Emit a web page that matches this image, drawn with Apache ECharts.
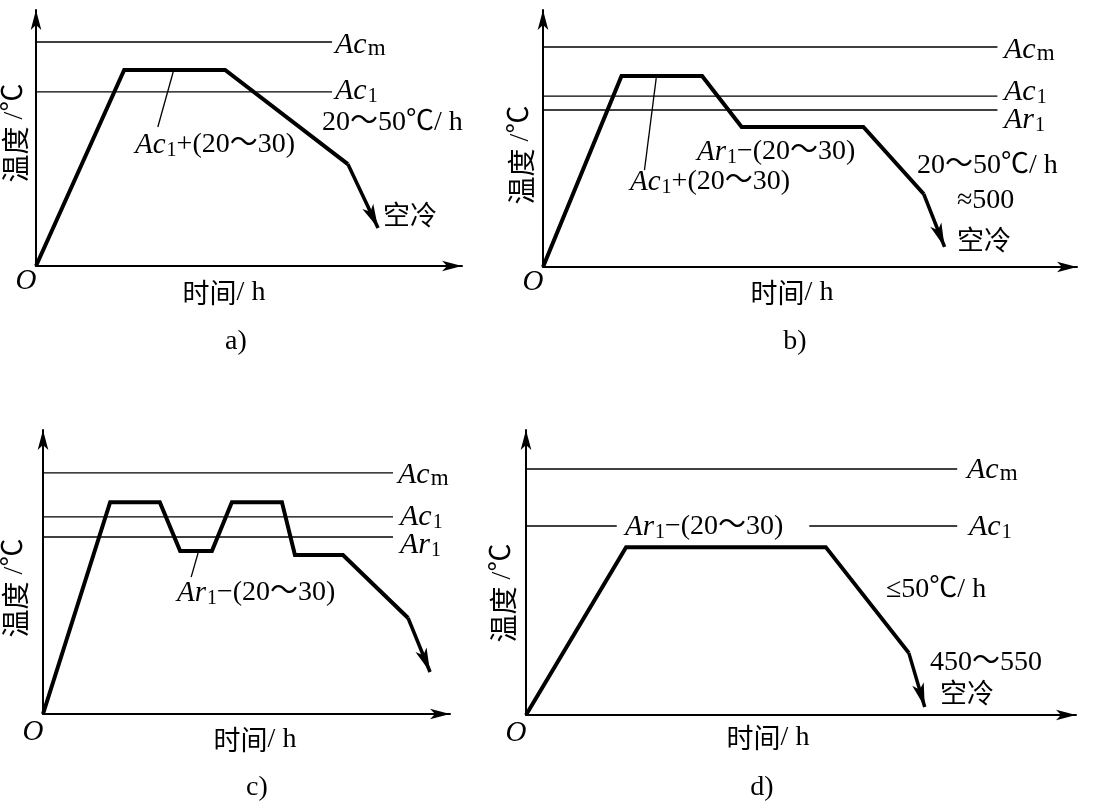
<!DOCTYPE html>
<html><head><meta charset="utf-8">
<script src="https://cdn.jsdelivr.net/npm/echarts@6/dist/echarts.min.js"></script>
<style>html,body{margin:0;padding:0;background:#fff}#c{width:1093px;height:803px}</style>
</head><body><div id="c"></div>
<script>
// ---- Panel a) ----
const aPath = [[0,0],[20.7,76.6],[44.4,76.6],[73.2,39.8],[80.3,14.8]];
const aLevelNames = ['Acm','Ac1'];
const aLevelValues = [87.5, 68.0];
const aLevelEnd = 69.5;
const aLeader = [[32.2,75.8],[28.6,54.3]];
// ---- Panel b) ----
const bPath = [[0,0],[14.7,74.3],[29.8,74.3],[37.2,54.5],[60.0,54.5],[71.3,28.4],[75.2,7.8]];
const bLevelNames = ['Acm','Ac1','Ar1'];
const bLevelValues = [85.6, 66.5, 61.1];
const bLevelEnd = 85.1;
const bLeader = [[21.2,73.5],[19.0,37.7]];
// ---- Panel c) ----
const cPath = [[0,0],[16.5,74.6],[28.7,74.6],[33.7,57.4],[41.5,57.4],[46.4,74.6],[58.7,74.6],[61.9,56.0],[73.7,56.0],[89.7,33.8],[95.1,14.8]];
const cLevelNames = ['Acm','Ac1','Ar1'];
const cLevelValues = [84.9, 69.4, 62.3];
const cLevelEnd = 86.0;
const cLeader = [[38.1,56.7],[36.4,48.2]];
// ---- Panel d) ----
const dPath = [[0,0],[18.2,58.9],[54.5,58.9],[69.6,21.8],[72.5,2.8]];
const dLevelNames = ['Acm','Ac1'];
const dLevelValues = [86.3, 66.3];
const dLevelEnd = 78.4;
const dAc1Gap = [16.5, 51.5];

const SERIF = '"Liberation Serif","Times New Roman","Noto Sans CJK SC",serif';
const CJK = '"Noto Sans CJK SC",sans-serif';

const grids = [
  {left:36, top:10, width:426, height:256},
  {left:543, top:10, width:534, height:257},
  {left:43, top:430, width:407, height:284},
  {left:526, top:430, width:550, height:285}
];

function axis(i){
  return {type:'value', gridIndex:i, min:0, max:100,
    axisLine:{show:true, symbol:['none','arrow'], symbolSize:[8,20], lineStyle:{color:'#000', width:2}},
    axisTick:{show:false}, axisLabel:{show:false}, splitLine:{show:false}};
}
function seg(gi, pts, w){
  return {type:'line', xAxisIndex:gi, yAxisIndex:gi, data:pts, symbol:'none', silent:true,
    lineStyle:{color:'#000', width:w}, z:2};
}
function levelSeries(gi, vals, end){
  return vals.map(v => seg(gi, [[0,v],[end,v]], 1.4));
}
function pathSeries(gi, path){
  const n = path.length;
  return {type:'line', xAxisIndex:gi, yAxisIndex:gi, data:path.slice(0,n-1), symbol:'none', silent:true, z:5,
    lineStyle:{color:'#000', width:4, join:'miter', cap:'butt'},
    markLine:{silent:true, symbol:['none','arrow'], symbolSize:[9,24],
      label:{show:false}, lineStyle:{color:'#000', width:3.5, type:'solid'},
      data:[[{coord:path[n-2]},{coord:path[n-1]}]]}};
}

const series = [];
series.push(...levelSeries(0, aLevelValues, aLevelEnd));
series.push(seg(0, aLeader, 1.3));
series.push(pathSeries(0, aPath));
series.push(...levelSeries(1, bLevelValues, bLevelEnd));
series.push(seg(1, bLeader, 1.3));
series.push(pathSeries(1, bPath));
series.push(...levelSeries(2, cLevelValues, cLevelEnd));
series.push(seg(2, cLeader, 1.3));
series.push(pathSeries(2, cPath));
series.push(seg(3, [[0,dLevelValues[0]],[dLevelEnd,dLevelValues[0]]], 1.4));
series.push(seg(3, [[0,dLevelValues[1]],[dAc1Gap[0],dLevelValues[1]]], 1.4));
series.push(seg(3, [[dAc1Gap[1],dLevelValues[1]],[dLevelEnd,dLevelValues[1]]], 1.4));
series.push(pathSeries(3, dPath));

const rich = {
  I:{fontFamily:SERIF, fontStyle:'italic', fontSize:30, fill:'#000'},
  i:{fontFamily:SERIF, fontStyle:'italic', fontSize:29, fill:'#000'},
  n:{fontFamily:SERIF, fontSize:28, fill:'#000'},
  s:{fontFamily:SERIF, fontSize:20, padding:[11,0,0,1], fill:'#000'},
  m:{fontFamily:SERIF, fontSize:23, padding:[7,0,0,1], fill:'#000'},
  z:{fontFamily:CJK, fontSize:27, fill:'#000'},
  v:{fontFamily:CJK, fontSize:28, fill:'#000'},
  w:{fontFamily:SERIF, fontSize:28, fill:'#000'}
};
function T(x, y, text, align, rot){
  const a = align || 'left';
  return {type:'text', x:x, y:y, rotation:rot||0, silent:true, z:100,
    style:{text:text, rich:rich, fill:'#000', font:'28px '+SERIF,
      align:a, verticalAlign:'middle', textAlign:a, textVerticalAlign:'middle'}};
}
const acm = '{I|Ac}{m|m}', ac1 = '{I|Ac}{s|1}', ar1 = '{I|Ar}{s|1}';
const ac1s = '{i|Ac}{s|1}', ar1s = '{i|Ar}{s|1}';
const xlab = '{z|时间}{n|/ h}';
const ylab = '{v|温度}{w| /℃}';
const texts = [
  // a
  T(335,45,acm), T(335,91,ac1), T(322,123,'{n|20～50℃/ h}'),
  T(135,145,ac1s+'{n|+(20～30)}'), T(383,215,'{z|空冷}'),
  T(224,293,xlab,'center'), T(236,342,'{n|a)}','center'),
  T(26,281,'{i|O}','center'), T(15,133,ylab,'center',Math.PI/2),
  // b
  T(1004,50,acm), T(1004,92,ac1), T(1004,120,ar1),
  T(697,152,ar1s+'{n|−(20～30)}'), T(630,182,ac1s+'{n|+(20～30)}'),
  T(917,166,'{n|20～50℃/ h}'), T(957,201,'{n|≈500}'), T(957,240,'{z|空冷}'),
  T(792,293,xlab,'center'), T(795,342,'{n|b)}','center'),
  T(533,282,'{i|O}','center'), T(521,155,ylab,'center',Math.PI/2),
  // c
  T(398,475,acm), T(400,517,ac1), T(400,545,ar1),
  T(177,593,ar1s+'{n|−(20～30)}'),
  T(255,740,xlab,'center'), T(257,788,'{n|c)}','center'),
  T(33,732,'{i|O}','center'), T(15,588,ylab,'center',Math.PI/2),
  // d
  T(967,470,acm), T(969,527,ac1), T(625,527,ar1s+'{n|−(20～30)}'),
  T(886,590,'{n|≤50℃/ h}'), T(930,663,'{n|450～550}'), T(940,693,'{z|空冷}'),
  T(768,738,xlab,'center'), T(762,788,'{n|d)}','center'),
  T(516,733,'{i|O}','center'), T(503,593,ylab,'center',Math.PI/2)
];

const chart = echarts.init(document.getElementById('c'), null, {renderer:'canvas'});
chart.setOption({
  animation:false,
  backgroundColor:'#fff',
  grid:grids,
  xAxis:[0,1,2,3].map(axis),
  yAxis:[0,1,2,3].map(axis),
  series:series,
  graphic:texts
});
</script></body></html>
